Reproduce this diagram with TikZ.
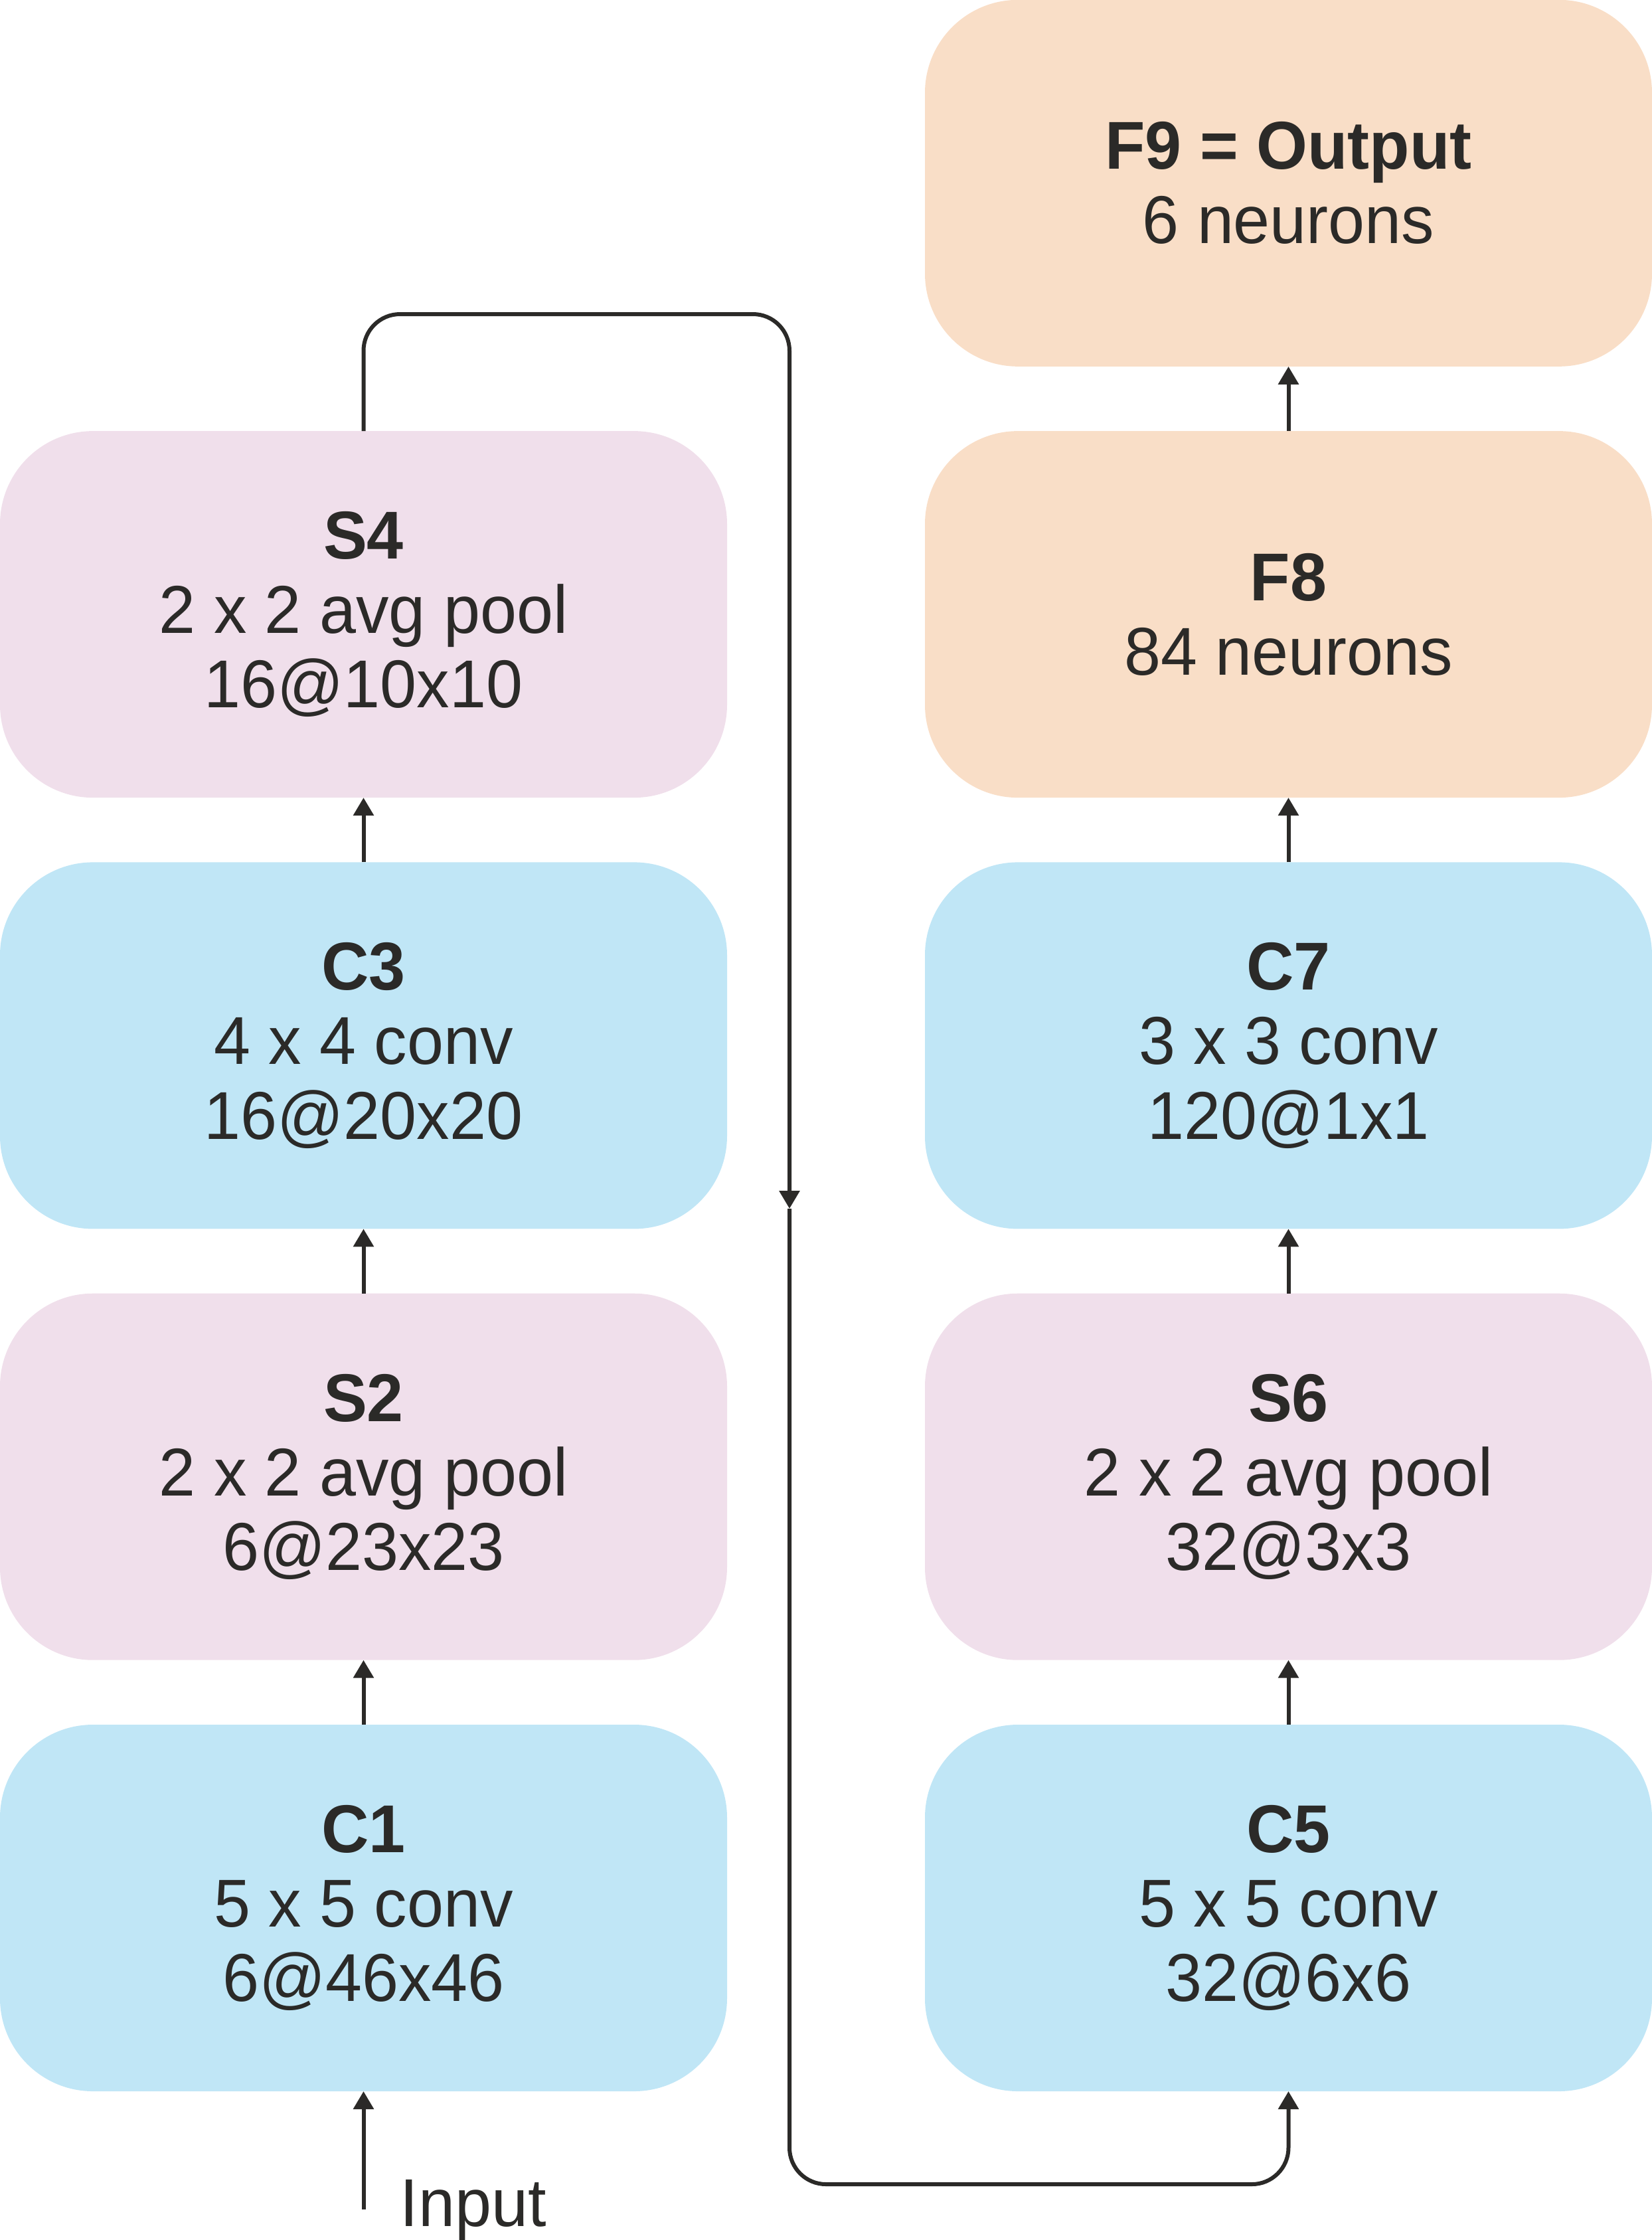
\documentclass[tikz,border=0pt]{standalone}
\usepackage{fontspec}
\setmainfont{Liberation Sans}[FakeStretch=0.97]
\usepackage{tikz}
\usetikzlibrary{arrows.meta}
\usetikzlibrary{positioning}

\definecolor{convblue}{RGB}{192,230,246}
\definecolor{poolpink}{RGB}{240,223,235}
\definecolor{fullpeach}{RGB}{249,222,199}
\definecolor{inkgrey}{RGB}{43,42,40}

\begin{document}
\begin{tikzpicture}[
    layer/.style={rounded corners=1.4cm, minimum width=10.95cm, minimum height=5.52cm,
        inner sep=0pt, outer sep=0pt, align=center, text=inkgrey, font=\fontsize{29}{31.9}\selectfont},
    conv/.style={layer, fill=convblue},
    pool/.style={layer, fill=poolpink},
    full/.style={layer, fill=fullpeach},
    link/.style={draw=inkgrey, line width=0.06cm, -{Triangle[length=0.27cm, width=0.30cm]}},
    node distance=0.973cm]
    \useasboundingbox (0, 0) rectangle (24.88, -33.73);
    % left column
    \node[conv] (C1) at (5.475, -28.73) {\textbf{C1}\\5 x 5 conv\\6@46x46};
    \node[pool, above=of C1] (S2) {\textbf{S2}\\2 x 2 avg pool\\6@23x23};
    \node[conv, above=of S2] (C3) {\textbf{C3}\\4 x 4 conv\\16@20x20};
    \node[pool, above=of C3] (S4) {\textbf{S4}\\2 x 2 avg pool\\16@10x10};
    % right column
    \node[conv] (C5) at (19.405, -28.73) {\textbf{C5}\\5 x 5 conv\\32@6x6};
    \node[pool, above=of C5] (S6) {\textbf{S6}\\2 x 2 avg pool\\32@3x3};
    \node[conv, above=of S6] (C7) {\textbf{C7}\\3 x 3 conv\\120@1x1};
    \node[full, above=of C7] (F8) {\textbf{F8}\\84 neurons};
    \node[full, above=of F8] (F9) {\textbf{F9 = Output}\\6 neurons};

    \node[anchor=base west, inner sep=0pt, text=inkgrey, font=\fontsize{29}{31.9}\selectfont] (input) at (6.02, -33.52) {Input};
    \coordinate (instart) at (5.475, -33.27);
    \coordinate (looptop) at (11.89, -4.73);
    \coordinate (loopmid) at (11.89, -18.20);
    \coordinate (loopbot) at (11.89, -32.89);

    \draw[link] (instart) -- (C1.south);
    \draw[link] (C1.north) -- (S2.south);
    \draw[link] (S2.north) -- (C3.south);
    \draw[link] (C3.north) -- (S4.south);
    \draw[link, rounded corners=0.55cm] (S4.north) |- (looptop) -- (loopmid);
    \draw[link, rounded corners=0.55cm] (loopmid) -- (loopbot) -| (C5.south);
    \draw[link] (C5.north) -- (S6.south);
    \draw[link] (S6.north) -- (C7.south);
    \draw[link] (C7.north) -- (F8.south);
    \draw[link] (F8.north) -- (F9.south);
\end{tikzpicture}
\end{document}
